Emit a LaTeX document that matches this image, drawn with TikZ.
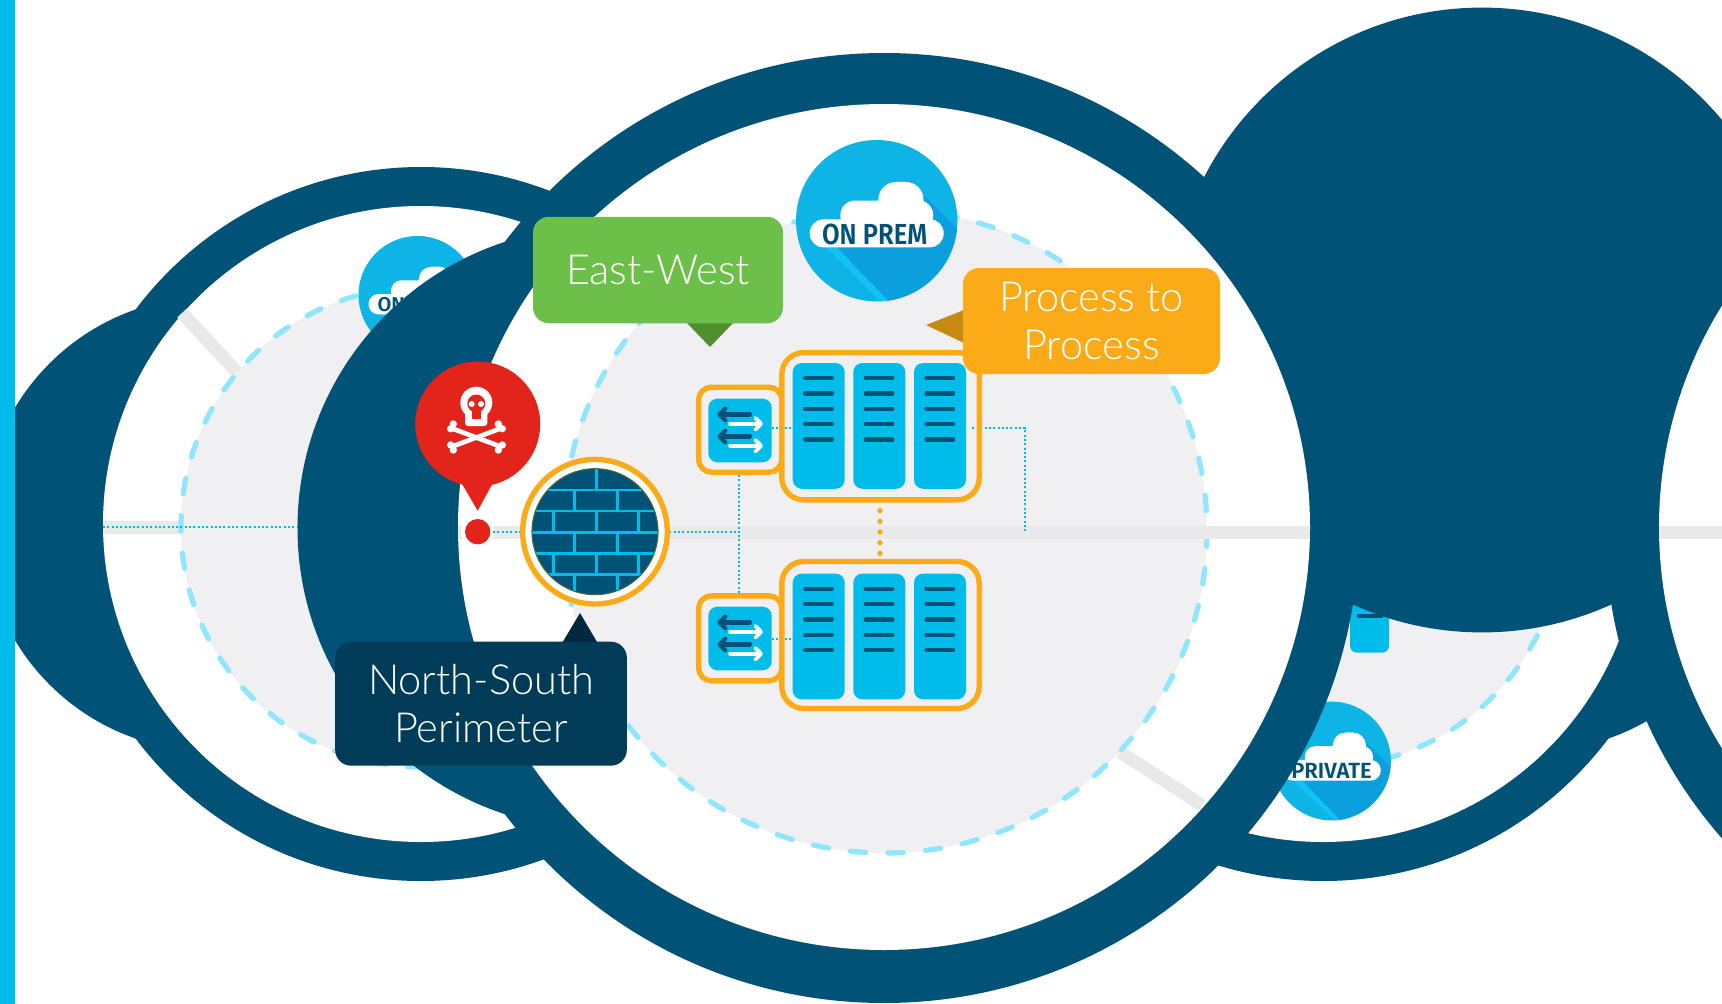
\documentclass[tikz,border=0pt]{standalone}
\usepackage{fontspec}
\usepackage{graphicx}
\usetikzlibrary{calc}
\setmainfont{Lato}[UprightFont={* Light}]
\newfontfamily\badgefont{Fira Sans}[UprightFont={* SemiBold}]
\definecolor{ink}{HTML}{015277}
\definecolor{navy}{HTML}{003B57}
\definecolor{navyd}{HTML}{00283F}
\definecolor{cyan1}{HTML}{00BCEB}
\definecolor{badgeb}{HTML}{0EB4E6}
\definecolor{badges}{HTML}{0C9FDE}
\definecolor{badgel}{HTML}{12C2F2}
\definecolor{discg}{HTML}{F0F0F3}
\definecolor{lineg}{HTML}{E9E9E9}
\definecolor{dashc}{HTML}{90E6FF}
\definecolor{amber}{HTML}{FBAB18}
\definecolor{amberd}{HTML}{C78B12}
\definecolor{leaf}{HTML}{6CC04A}
\definecolor{leafd}{HTML}{4F8F2F}
\definecolor{alarm}{HTML}{E2241A}
\definecolor{olive}{HTML}{4A6A3C}
\tikzset{
  disc/.style={fill=discg,draw=dashc,line width=5.2pt,line cap=round,dash pattern=on 15.5pt off 22pt},
  grayline/.style={draw=lineg,line width=13pt},
  dotline/.style={draw=cyan1,line width=1.9pt,dash pattern=on 2pt off 2.3pt},
  frame/.style={draw=amber,line width=5.4pt,fill=discg,rounded corners=22pt,inner sep=0pt},
  swframe/.style={draw=amber,line width=5.4pt,fill=discg,rounded corners=13pt,inner sep=0pt},
  swbox/.style={fill=cyan1,rounded corners=9pt,minimum width=63.4pt,minimum height=63.6pt,inner sep=0pt},
  blade/.style={fill=cyan1,rounded corners=9pt,minimum width=52pt,minimum height=125.7pt,inner sep=0pt},
  callout/.style={rounded corners=16pt,inner sep=0pt,text=white,align=center,font=\fontsize{41.5}{48}\selectfont},
  bar/.style={draw=ink,line width=4.3pt,line cap=round},
  arrowd/.style={draw=ink,line width=4.2pt,line cap=round,line join=round},
  arroww/.style={draw=white,line width=3.8pt,line cap=round,line join=round},
  brick/.style={draw=cyan1,line width=2.9pt},
}
% badge: cx cy r text fontsize
\newcommand{\cloudbadge}[6]{%
  \begin{scope}[shift={(#1,#2)},x=#3pt,y=-#3pt]
    \fill[badgeb] (0,0) circle (1);
    \begin{scope}
      \clip (0,0) circle (1);
      \fill[badgel] (-.66,.3) -- (.1,1.05) -- (.4,1.05) -- (-.4,.3) -- cycle;
      \fill[badges] (-.52,.3) -- (.2,1.05) -- (1.1,1.05) -- (1.1,.2) -- (.6,-.3) -- cycle;
    \end{scope}
    \fill[white,rounded corners=.17*#3pt] (-.83,-.017) rectangle (.83,.33);
    \fill[white,rounded corners=.18*#3pt] (-.45,-.25) rectangle (.70,.12);
    \fill[white,rounded corners=.22*#3pt] (.02,-.48) rectangle (.58,.12);
    \node[anchor=west,inner sep=0pt,text=ink,font=\badgefont\fontsize{#5}{#5}\selectfont] at (-.68,.165) {\scalebox{#6}[1]{#4}};
  \end{scope}}
\begin{document}
\begin{tikzpicture}[x=1pt,y=-1pt]
\useasboundingbox (0,0) rectangle (1722,1004);
\clip (0,0) rectangle (1722,1004);
\fill[white] (0,0) rectangle (1722,1004);
% left cloud
\fill[ink] (210,524) circle (227);
\fill[ink] (421,524) circle (357);
\fill[white] (421,524) circle (318);
\draw[grayline] (103,527) -- (181,527);
\draw[grayline] (182,313) -- (237,372);
\draw[disc] (421,527) circle (240);
\draw[dotline] (103,527) -- (300,527);
\cloudbadge{417.5}{295}{59}{ON}{20}{1}
% right cloud
\fill[ink] (1534,524) circle (227);
\fill[ink] (1323,524) circle (357);
\fill[white] (1323,524) circle (318);
\draw[disc] (1323,527) circle (240);
\node[fill=cyan1,rounded corners=7pt,minimum width=39pt,minimum height=90pt,inner sep=0pt] (rblade) at (1369.5,607.7) {};
\draw[bar] (1359,615.7) -- (1381,615.7);
\cloudbadge{1331.5}{761}{59.4}{PRIVATE}{22}{1}
% big solid circle
\fill[ink] (1482,320) circle (312.4);
% far right
\fill[ink] (2078,527) circle (473);
\fill[white] (2079,527) circle (420);
\draw[grayline] (1659,532.5) -- (1722,532.5);
% crescent
\fill[ink] (598.5,528) circle (301);
% main
\fill[ink] (884,528) circle (475);
\fill[white] (884,527) ellipse (426 and 423);
\draw[grayline] (1120,752) -- (1202,805);
\draw[disc] (885,531) circle (322);
\begin{scope}
  \clip (884,527) ellipse (426 and 423);
  \draw[grayline] (440,532.5) -- (1320,532.5);
\end{scope}
% attack dot halo
\fill[white] (477.7,531.7) circle (16.7);
% dotted connectors (firewall bus)
\coordinate (busL) at (493,531.7);
\coordinate (busJ) at (739.3,531.7);
\coordinate (busE) at (1025,531.7);
\coordinate (swTop) at (739.3,462);
\coordinate (swBot) at (739.3,605);
\coordinate (rackOut) at (971.7,427.7);
\coordinate (rackCorner) at (1025,427.7);
\draw[dotline] (busL) -- (busJ);
\draw[dotline] (swTop) -- (swBot);
\draw[dotline] (rackOut) -- (rackCorner) -- (busE);
% switch frames + racks
\node[swframe,minimum width=83.3pt,minimum height=85pt] (fsw1) at (740.2,429.7) {};
\node[swframe,minimum width=83.3pt,minimum height=85pt] (fsw2) at (740.2,638.3) {};
\node[frame,minimum width=197.4pt,minimum height=147.3pt] (rack1) at (880.5,426.2) {};
\node[frame,minimum width=197.4pt,minimum height=147pt] (rack2) at (880.5,635) {};
\foreach \r/\yy in {1/425.9,2/636.5}{
  \foreach \b/\xx in {1/818.7,2/879.3,3/940}{
    \node[blade] (b\r\b) at (\xx,\yy) {};
    \foreach \k in {0,1,2,3,4}{
      \draw[bar] ($(b\r\b.north west)+(12.7,15.3+15.35*\k)$) -- ++(26.6,0);
    }
  }
}
\node[swbox] (sw1) at (740,430.5) {};
\node[swbox] (sw2) at (740,638.5) {};
\coordinate (sw1p) at (771.7,427.7);
\coordinate (sw1q) at (778.5,427.7);
\coordinate (sw2p) at (771.7,639);
\coordinate (sw2q) at (778.5,639);
\coordinate (r1q) at (785,427.7);
\coordinate (r1p) at (792.7,427.7);
\coordinate (r2q) at (785,639);
\coordinate (r2p) at (792.7,639);
\coordinate (rackIn) at (975.5,427.7);
\draw[dotline] (sw1p) -- (sw1q);
\draw[dotline] (r1q) -- (r1p);
\draw[dotline] (sw2p) -- (sw2q);
\draw[dotline] (r2q) -- (r2p);
\draw[dotline] (rackOut) -- (rackIn);
\foreach \n in {sw1,sw2}{
  \begin{scope}[shift={(\n.north west)}]
    \foreach \o in {16,38}{
      \draw[arrowd] (41.7,\o) -- (12,\o);
      \draw[arrowd] (17.2,\o-5.8) -- (11.5,\o) -- (17.2,\o+5.8);
    }
    \foreach \o in {25.3,47.3}{
      \draw[arroww] (22,\o) -- (52.5,\o);
      \draw[arroww] (47.3,\o-5.8) -- (53,\o) -- (47.3,\o+5.8);
    }
  \end{scope}
}
\coordinate (rd1) at (880,510.7);
\coordinate (rd2) at (880,553.4);
\draw[draw=amber,line width=5.4pt,line cap=round,dash pattern=on 0pt off 10.65pt] (rd1) -- (rd2);
% firewall
\fill[white] (595,531.7) circle (75);
\draw[amber,line width=5.4pt] (595,531.7) circle (72.3);
\begin{scope}
  \clip (595,531.7) circle (63);
  \fill[ink] (595,531.7) circle (63);
  \foreach \yy in {490,511,532.3,553.3,574.3}{\draw[brick] (530,\yy) -- (660,\yy);}
  \draw[brick] (596.7,468) -- (596.7,490);
  \foreach \xx in {574.3,617.3}{
    \draw[brick] (\xx,490) -- (\xx,511);
    \draw[brick] (\xx,532.3) -- (\xx,553.3);
    \draw[brick] (\xx,574.3) -- (\xx,596);
  }
  \foreach \xx in {553.3,596.7,638.7}{
    \draw[brick] (\xx,511) -- (\xx,532.3);
    \draw[brick] (\xx,553.3) -- (\xx,574.3);
  }
\end{scope}
\draw[draw=olive,line width=1.1pt] (595,531.7) circle (63);
% red pin
\fill[alarm] (477.7,531.7) circle (12.7);
\fill[alarm] (461.7,483.3) -- (477.7,510.7) -- (492.7,483.3) -- cycle;
\fill[alarm] (477.7,424) circle (62.5);
\fill[white] (476.3,402.7) circle (16);
\fill[white,rounded corners=3pt] (465,400) rectangle (487.3,426);
\fill[alarm] (476.3,403.5) circle (9);
\fill[alarm] (471.7,404) rectangle (481,419);
\fill[white] (471.7,404) circle (3);
\fill[white] (481,404) circle (3);
\draw[white,line width=4.7pt] (451.7,428.3) -- (501,446.7);
\draw[white,line width=4.7pt] (501,428.3) -- (451.7,446.7);
\foreach \px/\py in {453.3/424,450.7/428.7,450.7/445,453.3/450,498.3/424,502.3/428.7,502.3/445,498.3/450}{
  \fill[white] (\px,\py) circle (3.7);
}
% badge main
\cloudbadge{876.7}{220.7}{80.7}{ON PREM}{29}{.88}
% callouts
\fill[leafd] (686,322) -- (734,322) -- (710,347) -- cycle;
\node[callout,fill=leaf,minimum width=250pt,minimum height=106.5pt] (ew) at (658,270) {East-West};
\fill[amberd] (926,325) -- (964,310) -- (964,343) -- cycle;
\node[callout,fill=amber,minimum width=257pt,minimum height=106pt] (pp) at (1091.5,321) {Process to\\Process};
\fill[navyd] (562.7,642) -- (580,613) -- (597,642) -- cycle;
\node[callout,fill=navy,minimum width=291.7pt,minimum height=124pt] (ns) at (481,703.7) {North-South\\Perimeter};
% left bar
\fill[cyan1] (0,0) rectangle (15,1004);
\end{tikzpicture}
\end{document}
